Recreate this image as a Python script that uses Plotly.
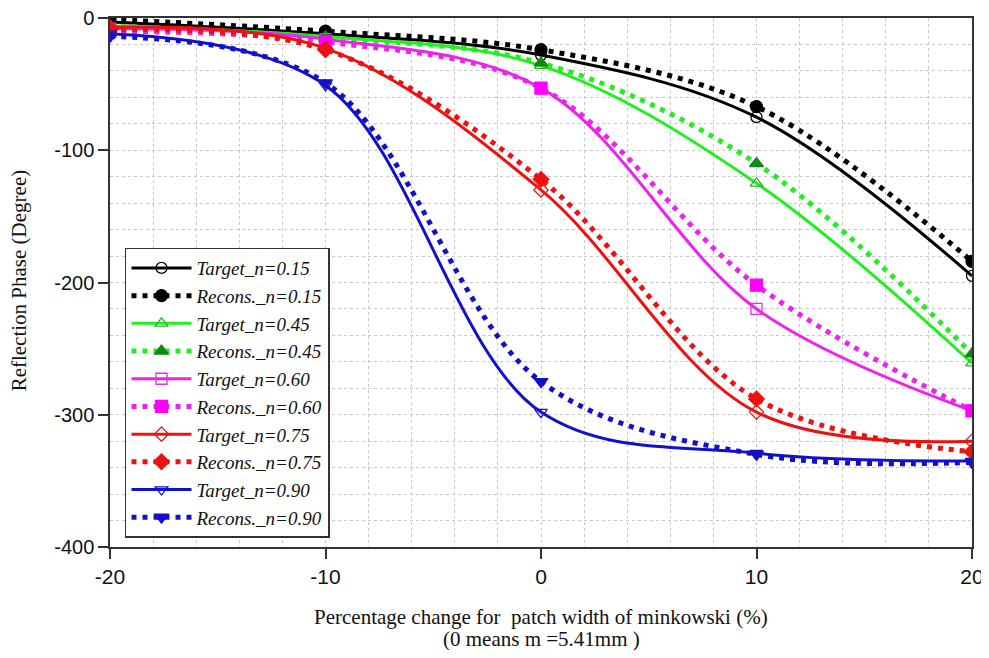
import plotly.graph_objects as go

x_vals = [-20, -10, 0, 10, 20]

target_015 = [-3, -12, -28, -75, -195]
recons_015 = [-1, -10, -24, -67, -184]
target_045 = [-6, -14, -36, -125, -261]
recons_045 = [-6, -15, -34, -110, -254]
target_060 = [-8, -16, -53, -220, -297]
recons_060 = [-10, -18, -53, -202, -297]
target_075 = [-7, -23, -130, -298, -320]
recons_075 = [-9, -24, -122, -288, -328]
target_090 = [-12, -51, -298, -329, -335]
recons_090 = [-14, -49, -275, -330, -336]

x_ticks = [-20, -10, 0, 10, 20]
y_ticks = [0, -100, -200, -300, -400]

x_title_1 = "Percentage change for  patch width of minkowski (%)"
x_title_2 = "(0 means m =5.41mm )"
y_title = "Reflection Phase (Degree)"

series = [
    ("Target_n=0.15", target_015, "#000000", "#000000", "circle-open", True),
    ("Recons._n=0.15", recons_015, "#000000", "#000000", "circle", False),
    ("Target_n=0.45", target_045, "#22ee22", "#22bb22", "triangle-up-open", True),
    ("Recons._n=0.45", recons_045, "#22ee22", "#118811", "triangle-up", False),
    ("Target_n=0.60", target_060, "#ee22ee", "#dd33dd", "square-open", True),
    ("Recons._n=0.60", recons_060, "#ee22ee", "#ff00ff", "square", False),
    ("Target_n=0.75", target_075, "#ee1111", "#dd2222", "diamond-open", True),
    ("Recons._n=0.75", recons_075, "#ee1111", "#ee1111", "diamond", False),
    ("Target_n=0.90", target_090, "#1111cc", "#1111cc", "triangle-down-open", True),
    ("Recons._n=0.90", recons_090, "#1111cc", "#1111cc", "triangle-down", False),
]

serif = "Liberation Serif, Times New Roman, serif"
sans = "Liberation Sans, Arial, sans-serif"

fig = go.Figure()
for name, ys, lcol, mcol, sym, solid in series:
    fig.add_trace(go.Scatter(
        x=x_vals, y=ys, name=name, mode="lines+markers",
        line=dict(color=lcol, width=3 if solid else 5,
                  dash="solid" if solid else "5px,6px",
                  shape="spline", smoothing=1.0),
        marker=dict(symbol=sym, size=11 if solid else 12, color=mcol,
                    line=dict(color=mcol, width=1.3)),
    ))

fig.update_layout(
    width=981, height=642,
    paper_bgcolor="white", plot_bgcolor="white",
    margin=dict(l=102, r=17, t=10, b=103, autoexpand=False),
    showlegend=True,
    legend=dict(
        x=0.0174, y=0.566, xanchor="left", yanchor="top",
        bgcolor="white", bordercolor="#333333", borderwidth=1.5,
        font=dict(family=serif, size=19, color="#111111", style="italic"),
        itemwidth=60, tracegroupgap=0,
    ),
    font=dict(family=sans, size=20, color="#111111"),
    annotations=[
        dict(text=x_title_1, xref="paper", yref="paper", x=0.5, y=-0.1323,
             xanchor="center", yanchor="middle", showarrow=False,
             font=dict(family=serif, size=21, color="#111111")),
        dict(text=x_title_2, xref="paper", yref="paper", x=0.5, y=-0.1739,
             xanchor="center", yanchor="middle", showarrow=False,
             font=dict(family=serif, size=21, color="#111111")),
        dict(text=y_title, xref="paper", yref="paper", x=-0.1056, y=0.504,
             xanchor="center", yanchor="middle", showarrow=False, textangle=-90,
             font=dict(family=serif, size=21, color="#111111")),
    ],
)

fig.update_xaxes(
    range=[-20, 20], tickvals=x_ticks, ticktext=[str(v) for v in x_ticks],
    ticks="outside", ticklen=10, tickcolor="#333333", tickwidth=1.5,
    showline=True, linecolor="#333333", linewidth=1.5, mirror=True,
    showgrid=False, zeroline=False, automargin=False, ticklabeloverflow="allow",
    minor=dict(dtick=2, showgrid=True, gridcolor="#c8c8c8", griddash="dot", gridwidth=1),
    tickfont=dict(size=21),
)
fig.update_yaxes(
    range=[-400, 0], tickvals=y_ticks, ticktext=[str(v) for v in y_ticks],
    ticks="outside", ticklen=10, tickcolor="#333333", tickwidth=1.5,
    showline=True, linecolor="#333333", linewidth=1.5, mirror=True,
    showgrid=False, zeroline=False, automargin=False, ticklabeloverflow="allow",
    minor=dict(dtick=20, showgrid=True, gridcolor="#c8c8c8", griddash="dot", gridwidth=1),
    tickfont=dict(size=20),
)

fig.write_html("out.html")
